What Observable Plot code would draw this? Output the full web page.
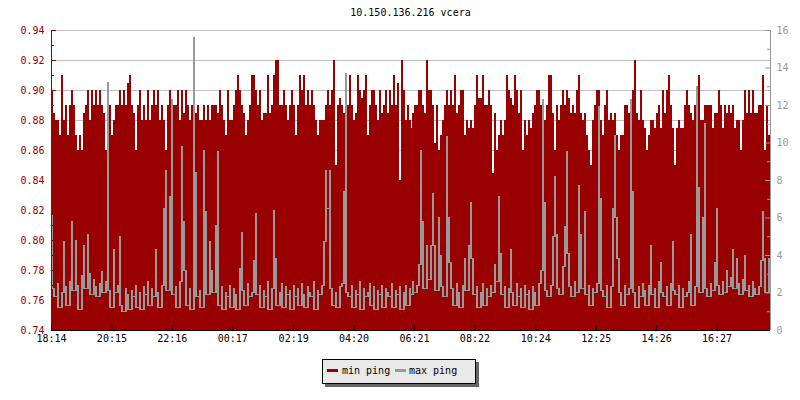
<!DOCTYPE html>
<html><head><meta charset="utf-8">
<script src="https://cdn.jsdelivr.net/npm/d3@7"></script>
<script src="https://cdn.jsdelivr.net/npm/@observablehq/plot@0.6"></script>
<style>
body{margin:0;background:#fff;}
#wrap{position:relative;width:800px;height:400px;font-family:"DejaVu Sans Mono",monospace;}
#title{position:absolute;left:51px;width:719px;top:8px;text-align:center;font-size:10px;line-height:10px;color:#000;}
#legend{position:absolute;left:322px;top:359px;}
</style></head><body>
<div id="wrap"><div id="chart"></div><div id="title"></div><div id="legend"></div></div>
<script>
const titleText = "10.150.136.216 vcera";
const seriesNames = ["min ping", "max ping"];
const seriesColors = ["#990000", "#999999"];
const stepMinutes = 4;
const xTickLabels = ["18:14","20:15","22:16","00:17","02:19","04:20","06:21","08:22","10:24","12:25","14:26","16:27"];
const leftMajorTicks = [0.74,0.76,0.78,0.80,0.82,0.84,0.86,0.88,0.90,0.92,0.94];
const leftMinorTicks = [0.75,0.77,0.79,0.81,0.83,0.85,0.87,0.89,0.91,0.93];
const rightMajorTicks = [0,2,4,6,8,10,12,14,16];
const rightMinorTicks = [1,3,5,7,9,11,13,15];
const leftDomain = [0.74, 0.94];
const rightDomain = [0, 16];

const minPing = [
0.90,0.885,0.88,0.88,0.87,0.91,0.88,0.89,0.87,0.89,
0.90,0.89,0.87,0.86,0.87,0.86,0.885,0.89,0.90,0.88,
0.90,0.89,0.90,0.89,0.90,0.89,0.885,0.86,0.87,0.89,
0.87,0.88,0.89,0.89,0.90,0.89,0.90,0.89,0.905,0.91,
0.89,0.885,0.86,0.89,0.90,0.88,0.89,0.88,0.90,0.88,
0.89,0.90,0.89,0.90,0.88,0.89,0.88,0.86,0.89,0.90,
0.88,0.89,0.89,0.90,0.88,0.90,0.885,0.90,0.89,0.88,
0.89,0.87,
0.885,0.89,0.88,0.88,0.89,0.88,0.89,0.88,0.89,0.89,
0.89,0.885,0.90,0.89,0.88,0.87,0.90,0.88,0.88,0.89,
0.90,0.91,0.90,0.89,0.885,0.87,0.88,0.89,0.91,0.91,
0.90,0.89,0.90,0.88,0.885,0.885,0.91,0.885,0.89,0.91,
0.92,0.92,0.89,0.89,0.90,0.89,0.88,0.89,0.90,0.89,
0.87,0.89,0.91,0.90,0.91,0.89,0.90,0.89,0.90,0.89,
0.88,0.87,0.88,0.88,0.88,0.89,0.90,0.89,0.90,0.92,
0.85,0.89,
0.895,0.89,0.885,0.89,0.89,0.91,0.89,0.88,0.885,0.91,
0.90,0.895,0.90,0.91,0.87,0.89,0.90,0.90,0.89,0.88,
0.90,0.885,0.89,0.90,0.885,0.90,0.89,0.91,0.89,0.905,
0.84,0.92,0.90,0.88,0.89,0.88,0.875,0.885,0.89,0.89,
0.90,0.90,0.89,0.885,0.92,0.90,0.90,0.89,0.865,0.89,
0.86,0.87,0.88,0.89,0.90,0.89,0.90,0.89,0.91,0.885,
0.89,0.90,0.90,0.87,0.88,0.875,0.88,0.875,0.89,0.91,
0.895,0.895,
0.91,0.89,0.89,0.90,0.89,0.845,0.885,0.86,0.87,0.88,
0.87,0.88,0.91,0.90,0.895,0.89,0.91,0.90,0.885,0.90,
0.86,0.88,0.87,0.88,0.875,0.885,0.89,0.90,0.90,0.89,
0.885,0.88,0.89,0.91,0.91,0.885,0.86,0.89,0.88,0.89,
0.90,0.89,0.90,0.895,0.885,0.89,0.885,0.90,0.91,0.885,
0.88,0.885,0.87,0.86,0.85,0.88,0.89,0.90,0.90,0.88,
0.87,0.89,0.90,0.88,0.885,0.88,0.885,0.87,0.86,0.87,
0.87,0.89,
0.89,0.885,0.89,0.90,0.92,0.885,0.88,0.90,0.88,0.875,
0.86,0.87,0.88,0.88,0.875,0.885,0.89,0.875,0.90,0.885,
0.90,0.91,0.89,0.875,0.85,0.875,0.88,0.875,0.875,0.89,
0.90,0.89,0.885,0.88,0.89,0.88,0.91,0.88,0.88,0.89,
0.89,0.89,0.89,0.875,0.885,0.885,0.90,0.89,0.875,0.89,
0.885,0.89,0.885,0.89,0.875,0.88,0.88,0.86,0.88,0.90,
0.885,0.90,0.885,0.90,0.885,0.885,0.89,0.89,0.91,0.86,
0.89,0.87
];

const maxPing = [
6.1,2.2,1.8,2.5,1.2,2.0,4.7,2.3,1.3,2.6,
5.8,2.1,4.8,2.4,1.1,2.9,4.5,2.2,5.1,3.0,
1.9,2.7,2.3,1.8,2.5,3.1,2.0,2.6,13.2,2.1,
1.2,4.3,2.0,2.4,5.0,1.3,1.0,2.2,1.9,1.1,
2.1,1.8,2.4,1.2,2.0,1.1,2.3,1.9,2.6,1.3,
2.2,1.8,4.3,2.0,1.2,2.4,6.5,8.5,2.1,7.1,
12.3,1.9,2.3,1.2,2.6,9.8,5.8,3.2,1.3,2.2,
1.1,15.6,8.4,1.8,2.1,1.2,9.6,6.3,1.9,4.7,
3.2,2.0,5.6,9.5,1.3,2.3,1.1,2.0,1.8,2.4,
1.2,2.2,1.9,1.1,3.3,5.2,2.1,1.3,2.5,1.8,
2.0,3.7,6.2,1.9,2.4,1.2,2.1,1.8,2.6,1.1,
2.2,6.4,3.8,1.3,2.0,2.5,1.2,2.3,1.9,2.1,
1.1,2.4,1.8,2.2,1.3,2.5,1.9,1.2,2.3,2.0,
1.8,2.6,1.1,2.1,1.9,2.4,4.7,8.5,6.5,8.5,
2.2,1.3,2.0,1.2,2.3,2.5,7.4,13.7,2.0,1.8,
2.4,1.2,2.1,1.9,2.6,1.1,2.2,1.8,2.0,2.5,
1.3,2.3,1.1,2.1,1.9,2.4,1.2,2.2,2.0,1.8,
2.5,1.2,2.1,1.9,2.3,1.1,2.0,2.4,1.3,2.2,
1.9,2.6,2.0,2.4,3.5,9.6,5.8,2.2,4.5,2.7,
4.5,7.3,4.5,2.1,6.0,4.0,2.3,1.8,10.3,6.0,
3.6,2.2,1.3,2.5,2.0,1.2,2.4,3.8,2.1,4.5,
6.8,3.8,1.9,2.3,1.2,2.0,2.5,1.3,2.2,1.8,
2.4,2.0,3.5,2.6,7.1,4.1,1.9,2.3,1.2,2.2,
4.3,2.0,1.3,2.5,1.8,2.2,1.2,2.4,1.9,2.1,
1.1,2.3,2.0,1.3,2.5,3.2,12.3,6.8,2.1,1.8,
2.4,5.0,8.2,5.1,2.2,1.9,3.4,5.5,9.5,4.1,
2.3,1.8,2.6,2.0,7.7,5.1,2.2,6.3,1.9,2.4,
1.3,2.2,2.0,2.5,11.9,7.0,2.1,1.8,2.4,1.2,
2.3,6.5,10.4,6.0,3.8,2.0,1.3,2.4,1.9,2.2,
12.3,7.4,2.0,1.2,2.3,1.8,2.5,2.1,1.3,2.4,
4.5,1.9,2.2,1.2,2.6,3.6,2.0,1.8,2.3,1.3,
2.5,4.7,2.1,1.9,2.4,1.2,2.2,1.8,2.0,2.6,
5.1,1.3,2.3,13.0,7.6,2.0,6.0,11.0,2.2,1.8,
2.5,2.1,3.6,6.5,2.4,1.9,2.6,2.0,3.2,2.3,
2.8,4.3,2.2,3.8,2.5,1.9,2.7,4.0,2.1,2.4,
1.8,2.6,2.2,1.9,2.3,3.7,6.3,3.8,2.0,3.8
];

// layout
const W = 800, H = 400, mL = 51, mR = 30, mT = 30, mB = 70;
const frameW = W - mL - mR;
const totalMinutes = minPing.length * stepMinutes;

// x tick positions (minutes since first label)
const toMin = s => { const [h, m] = s.split(":").map(Number); return h * 60 + m; };
const t0 = toMin(xTickLabels[0]);
const xTickPos = xTickLabels.map(s => { let d = toMin(s) - t0; if (d < 0) d += 1440; return d; });
const xLabelByPos = new Map(xTickPos.map((p, i) => [p, xTickLabels[i]]));

// right axis -> left scale mapping
const r2l = d3.scaleLinear(rightDomain, leftDomain);
const rightMajorPos = rightMajorTicks.map(r2l);
const rightMinorPos = rightMinorTicks.map(r2l);

// each max-ping step is drawn as the vertical stretch the 1px line sweeps
const table = minPing.map((v, i) => {
  const cur = maxPing[i];
  const lo = Math.min(cur, maxPing[i - 1] ?? cur, maxPing[i + 1] ?? cur);
  return {a: i * stepMinutes, b: (i + 1) * stepMinutes, min: v, maxTop: r2l(cur), maxLo: r2l(lo)};
});

const chart = Plot.plot({
  width: W, height: H,
  marginLeft: mL, marginRight: mR, marginTop: mT, marginBottom: mB,
  style: {fontFamily: "'DejaVu Sans Mono', monospace", fontSize: "10px", background: "#fff", overflow: "visible"},
  x: {domain: [0, totalMinutes], axis: null},
  y: {domain: leftDomain, axis: null},
  marks: [
    Plot.ruleY(leftMajorTicks, {stroke: "#c0c0c0", strokeWidth: 1}),
    Plot.rect(table, {x1: "a", x2: "b", y1: leftDomain[0], y2: "min", fill: seriesColors[0], shapeRendering: "crispEdges"}),
    Plot.rect(table, {x1: "a", x2: "b", y1: "maxLo", y2: "maxTop", fill: seriesColors[1], insetTop: -0.5, insetBottom: -0.5, shapeRendering: "crispEdges"}),
    // left axis
    Plot.ruleX([0], {stroke: seriesColors[0]}),
    Plot.ruleY(leftMajorTicks, {stroke: seriesColors[0], insetRight: frameW - 5}),
    Plot.ruleY(leftMinorTicks, {stroke: seriesColors[0], insetRight: frameW - 3}),
    Plot.axisY(leftMajorTicks, {anchor: "left", tickSize: 0, tickPadding: 7, tickFormat: d3.format(".2f"), color: seriesColors[0], label: null}),
    // right axis
    Plot.ruleX([totalMinutes], {stroke: seriesColors[1]}),
    Plot.ruleY(rightMajorPos, {stroke: seriesColors[1], insetLeft: frameW - 5}),
    Plot.ruleY(rightMinorPos, {stroke: seriesColors[1], insetLeft: frameW - 3}),
    Plot.axisY(rightMajorPos, {anchor: "right", tickSize: 0, tickPadding: 6, tickFormat: d => String(Math.round(r2l.invert(d))), color: seriesColors[1], label: null}),
    // x axis
    Plot.ruleY([leftDomain[0]], {stroke: "#000"}),
    Plot.ruleX(xTickPos, {stroke: "#000", insetTop: (H - mT - mB) - 5}),
    Plot.axisX(xTickPos, {anchor: "bottom", tickSize: 0, tickPadding: 4, tickFormat: d => xLabelByPos.get(d), color: "#000", label: null})
  ]
});
document.getElementById("chart").appendChild(chart);
document.getElementById("title").textContent = titleText;

// legend as svg
const ns = "http://www.w3.org/2000/svg";
const lg = document.createElementNS(ns, "svg");
lg.setAttribute("width", 160); lg.setAttribute("height", 30);
lg.style.fontFamily = "'DejaVu Sans Mono', monospace"; lg.style.fontSize = "10px";
const mk = (tag, attrs) => { const e = document.createElementNS(ns, tag); for (const k in attrs) e.setAttribute(k, attrs[k]); lg.appendChild(e); return e; };
mk("rect", {x: 3, y: 3, width: 154, height: 25, fill: "#666"});
mk("rect", {x: 0.5, y: 0.5, width: 153, height: 24, fill: "#e9e9e9", stroke: "#000"});
const itemX = [[5, 20], [73, 87]];
seriesNames.forEach((name, i) => {
  mk("rect", {x: itemX[i][0], y: 10, width: 11, height: 3, fill: seriesColors[i]});
  const t = mk("text", {x: itemX[i][1], y: 14.5, fill: "#000"});
  t.textContent = name;
});
document.getElementById("legend").appendChild(lg);
</script>
</body></html>
